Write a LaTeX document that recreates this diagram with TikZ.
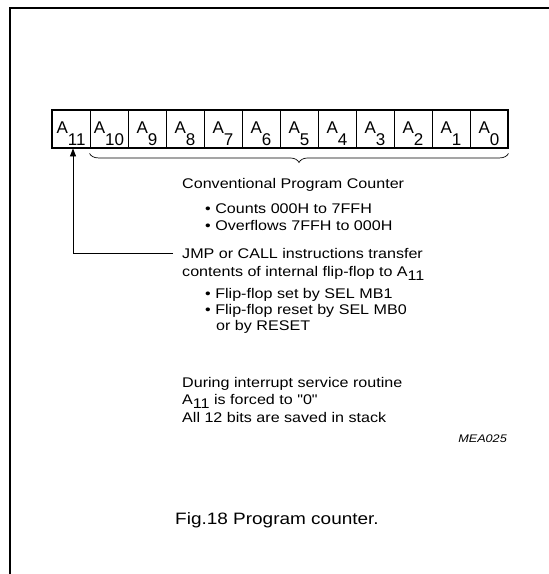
\documentclass[tikz,border=0pt]{standalone}
\usepackage{fontspec}
\setmainfont{Liberation Sans}
\newfontfamily\notefont[FakeStretch=1.15]{Liberation Sans}
\usepackage{tikz}
\usetikzlibrary{arrows.meta, decorations.pathreplacing}
\newcommand{\abit}[2][0.3em]{A\raisebox{-#1}{#2}}

\begin{document}
\begin{tikzpicture}[x=1pt, y=-1pt,
  cell/.style={rectangle, draw, line width=0.9pt, minimum width=38pt, minimum height=38pt, inner sep=0pt, text height=20pt, text depth=12pt, font=\fontsize{17}{17}\selectfont},
  note/.style={anchor=base west, inner sep=0pt, font=\notefont\fontsize{14}{17}\selectfont},
  link/.style={-{Triangle[length=8pt, width=6pt]}, line width=0.9pt},
  brace/.style={decorate, decoration={brace, mirror, amplitude=9pt}, line width=0.7pt}
]
\useasboundingbox (0,0) rectangle (549,574);

% ===== Frame =====
\draw[line width=1.4pt] (549,8) -- (10,8) -- (10,574);

% ===== Register A11..A0 =====
\foreach \i in {0,...,11}{
  \node[cell] (a\i) at ({71+(11-\i)*38}, 129) {\abit[12pt]{\i}};
}
\draw[line width=2pt] (a11.north west) rectangle (a0.south east);
\draw[brace] ([yshift=-5pt]a10.south west) -- ([yshift=-5pt]a0.south east);

% ===== Notes =====
\node[note] (conv)     at (182,188) {Conventional Program Counter};
\node[note] (counts)   at (205,213) {\textbullet\ Counts 000H to 7FFH};
\node[note] (overflow) at (205,230) {\textbullet\ Overflows 7FFH to 000H};
\node[note] (jmp)      at (182,258) {JMP or CALL instructions transfer};
\node[note] (contents) at (182,276) {contents of internal flip-flop to \abit{11}};
\node[note] (fset)     at (205,298) {\textbullet\ Flip-flop set by SEL MB1};
\node[note] (freset)   at (205,314) {\textbullet\ Flip-flop reset by SEL MB0};
\node[note] (byreset)  at (216,330) {or by RESET};
\node[note] (during)   at (182,387) {During interrupt service routine};
\node[note] (forced)   at (182,404) {\abit{11} is forced to "0"};
\node[note] (saved)    at (182,422) {All 12 bits are saved in stack};
\node[note, anchor=base east, font=\notefont\itshape\fontsize{11}{13}\selectfont] (code) at (507,442) {MEA025};

% flip-flop into A11
\draw[link] ([xshift=-9pt]jmp.west) -| ([xshift=2pt]a11.south);

% ===== Caption =====
\node[anchor=base, inner sep=0pt, font=\notefont\fontsize{16.5}{20}\selectfont] (caption) at (277,524) {Fig.18 Program counter.};

\end{tikzpicture}
\end{document}
